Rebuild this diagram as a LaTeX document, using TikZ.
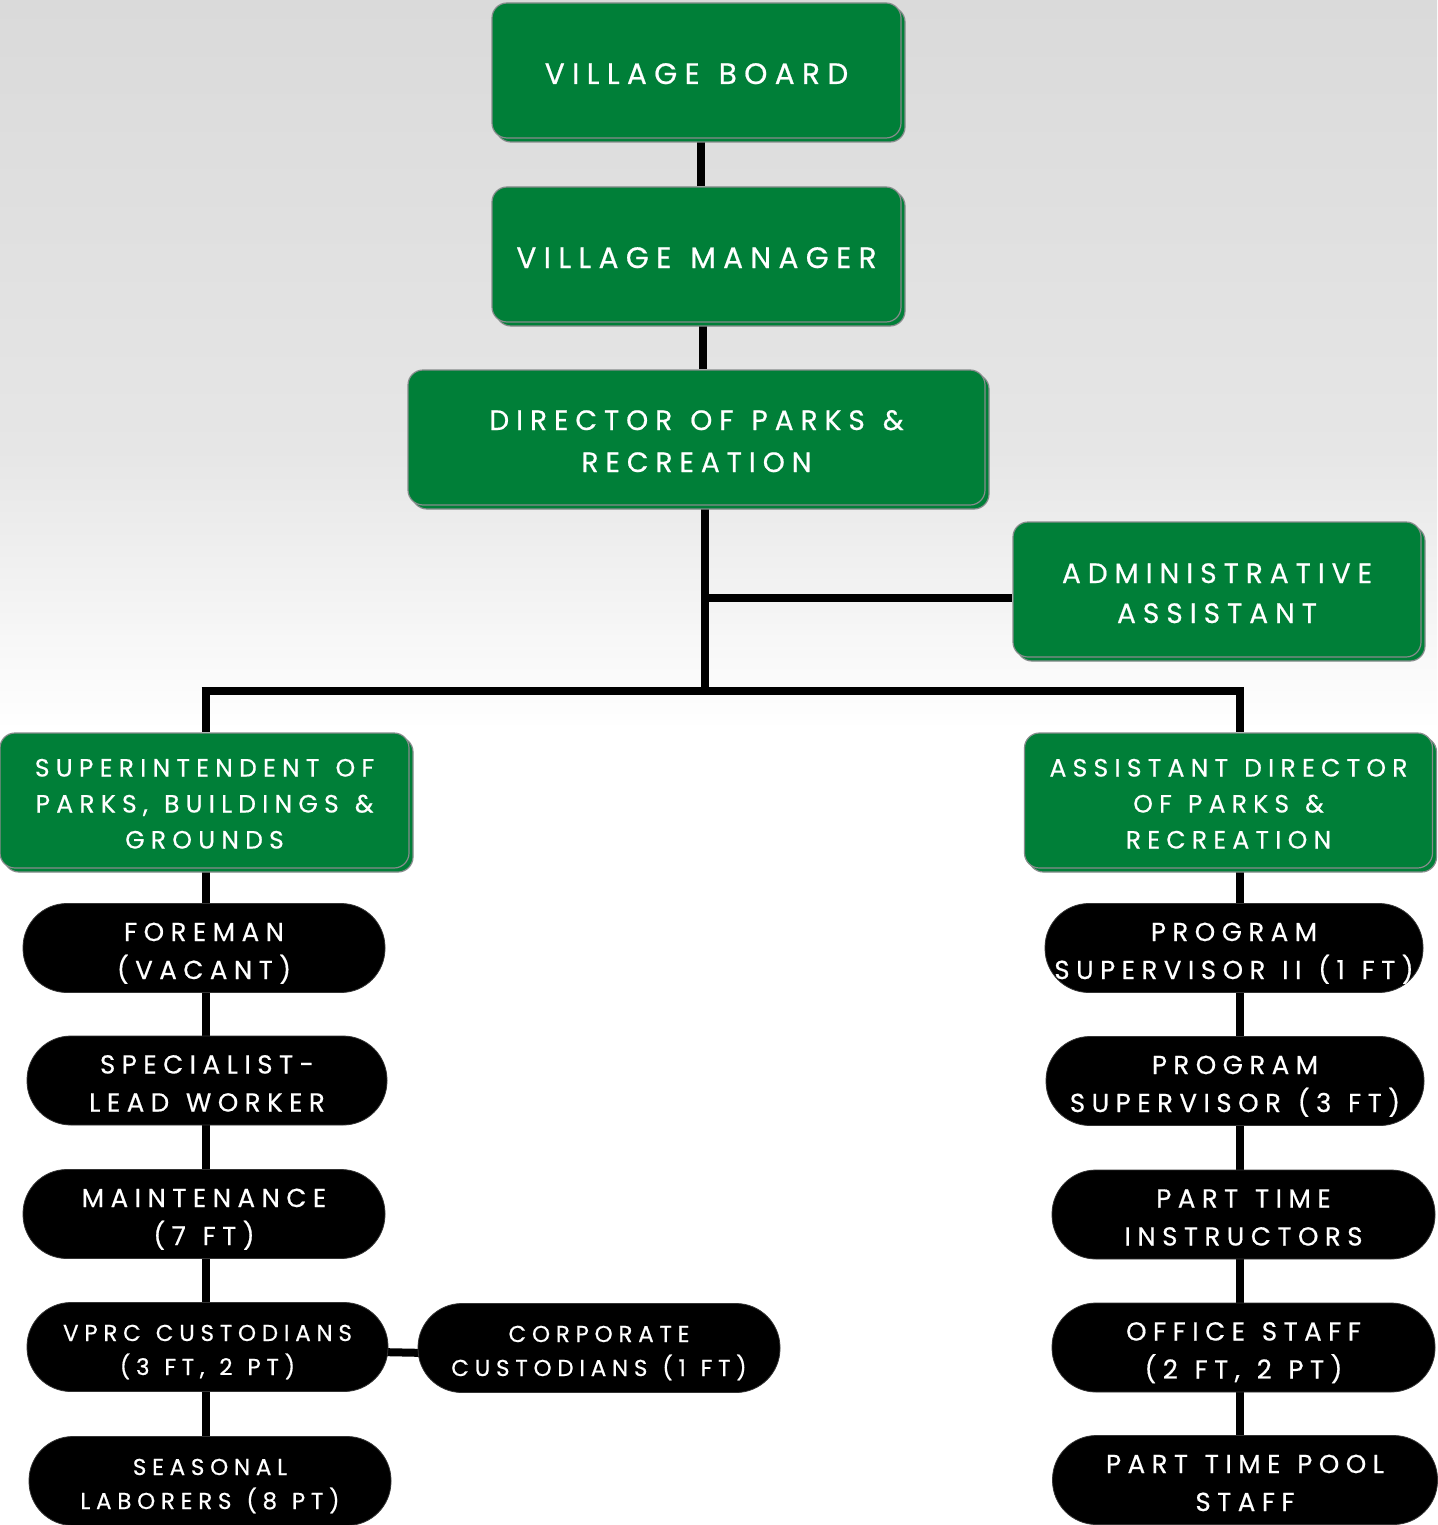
\documentclass[tikz,border=0pt]{standalone}
\usepackage{fontspec}
\newfontfamily\orgfont[LetterSpace=25, WordSpace=1.25, FakeBold=0.6]{Poppins}
\usetikzlibrary{shadows,backgrounds,calc}
\definecolor{boardgreen}{RGB}{0,127,56}
\definecolor{edgegray}{RGB}{135,140,140}
\definecolor{topgray}{RGB}{218,218,218}
\definecolor{midgray}{RGB}{230,230,230}

% fixed top/bottom struts keep every label at the same height in its box
\newcommand\orglbl[3]{\rule{0pt}{#1}#3\rule[-#2]{0pt}{0pt}}
\newcommand\biglbl[1]{\orglbl{35pt}{8pt}{#1}}
\newcommand\midlbl[1]{\orglbl{32pt}{8pt}{#1}}
\newcommand\pilllbl[1]{\orglbl{32pt}{8pt}{#1}}
\newcommand\tightlbl[1]{\orglbl{30pt}{8pt}{#1}}

\begin{document}
\begin{tikzpicture}[x=1pt,y=-1pt,
  greenbox/.style={rectangle, rounded corners=15pt, fill=boardgreen,
    draw=edgegray, line width=1.2pt, text=white, align=center, inner sep=0pt,
    copy shadow={shadow xshift=4pt, shadow yshift=-4pt}},
  pill/.style={rectangle, rounded corners=44pt, fill=black, draw=black!80, line width=0.8pt,
    text=white, align=center, inner sep=0pt, minimum height=89pt},
  toptext/.style={font=\orgfont\fontsize{29.5}{42}\selectfont},
  bigtext/.style={font=\orgfont\fontsize{28}{42}\selectfont},
  midtext/.style={font=\orgfont\fontsize{25}{36}\selectfont},
  pilltext/.style={font=\orgfont\fontsize{26}{38}\selectfont},
  tighttext/.style={font=\orgfont\fontsize{23}{34}\selectfont},
  conn/.style={line width=8pt, black}]

\useasboundingbox (0,0) rectangle (1437,1525);

% page background: grey fading to white
\begin{pgfonlayer}{background}
  \fill[white] (0,0) rectangle (1437,1525);
  \shade[top color=topgray, bottom color=midgray] (0,0) rectangle (1437,450);
  \shade[top color=midgray, bottom color=white] (0,450) rectangle (1437,730);
\end{pgfonlayer}

% leadership boxes
\node[greenbox, toptext, minimum width=409pt, minimum height=135pt] (vb) at (696.5,70.5) {\biglbl{VILLAGE BOARD}};
\node[greenbox, toptext, minimum width=409pt, minimum height=135pt] (vm) at (696.5,254.5) {\biglbl{VILLAGE MANAGER}};
\node[greenbox, bigtext, minimum width=577pt, minimum height=135pt] (dir) at (696.5,437.5) {\biglbl{DIRECTOR OF PARKS \&\\RECREATION}};
\node[greenbox, bigtext, minimum width=408pt, minimum height=135pt,
      font=\orgfont\fontsize{28}{40}\selectfont] (adm) at (1217,589.5) {\biglbl{ADMINISTRATIVE\\ASSISTANT}};
\node[greenbox, midtext, minimum width=409pt, minimum height=135pt] (sup) at (204.5,800.5) {\midlbl{SUPERINTENDENT OF\\PARKS, BUILDINGS \&\\GROUNDS}};
\node[greenbox, midtext, minimum width=408pt, minimum height=135pt] (asd) at (1228.5,800.5) {\midlbl{ASSISTANT DIRECTOR\\OF PARKS \&\\RECREATION}};

% parks, buildings and grounds staff
\node[pill, pilltext, minimum width=362pt] (fore) at (204,948) {\pilllbl{FOREMAN\\(VACANT)}};
\node[pill, pilltext, minimum width=360pt] (spec) at (207,1080.5) {\pilllbl{SPECIALIST-\\LEAD WORKER}};
\node[pill, pilltext, minimum width=362pt] (maint) at (204,1214) {\pilllbl{MAINTENANCE\\(7 FT)}};
\node[pill, tighttext, minimum width=361pt] (vprc) at (207.5,1347) {\tightlbl{VPRC CUSTODIANS\\(3 FT, 2 PT)}};
\node[pill, tighttext, minimum width=362pt] (seas) at (210,1481) {\tightlbl{SEASONAL\\LABORERS (8 PT)}};
\node[pill, tighttext, minimum width=362pt] (corp) at (599,1348) {\tightlbl{CORPORATE\\CUSTODIANS (1 FT)}};

% recreation staff
\node[pill, pilltext, minimum width=378pt] (ps2) at (1234,948) {\pilllbl{PROGRAM\\SUPERVISOR II (1 FT)}};
\node[pill, pilltext, minimum width=378pt] (ps) at (1235,1081) {\pilllbl{PROGRAM\\SUPERVISOR (3 FT)}};
\node[pill, pilltext, minimum width=383pt] (pti) at (1243.5,1214.5) {\pilllbl{PART TIME\\INSTRUCTORS}};
\node[pill, pilltext, minimum width=383pt] (off) at (1243.5,1347.5) {\pilllbl{OFFICE STAFF\\(2 FT, 2 PT)}};
\node[pill, pilltext, minimum width=385pt] (pool) at (1245,1480) {\pilllbl{PART TIME POOL\\STAFF}};

% reporting lines
\coordinate (lcol) at (205.5,0);
\coordinate (rcol) at (1240,0);
\coordinate (trunk) at (705,0);
\coordinate (bus) at (0,691);
\coordinate (admrow) at (0,598);
\begin{pgfonlayer}{background}
  \draw[conn] ($(vb.south)+(4.5,0)$) -- ($(vm.north)+(4.5,0)$);
  \draw[conn] ($(vm.south)+(6.5,0)$) -- ($(dir.north)+(6.5,0)$);
  \draw[conn] (trunk |- dir.south) -- (trunk |- bus);
  \draw[conn] (trunk |- admrow) -- (adm.west |- admrow);
  \draw[conn] ([xshift=-4pt]lcol |- bus) -- ([xshift=4pt]rcol |- bus);
  \draw[conn] (lcol |- bus) -- (lcol |- sup.north);
  \draw[conn] (rcol |- bus) -- (rcol |- asd.north);
  \draw[conn] (lcol |- sup.south) -- (lcol |- fore.north);
  \draw[conn] (lcol |- fore.south) -- (lcol |- spec.north);
  \draw[conn] (lcol |- spec.south) -- (lcol |- maint.north);
  \draw[conn] (lcol |- maint.south) -- (lcol |- vprc.north);
  \draw[conn] (lcol |- vprc.south) -- (lcol |- seas.north);
  \draw[conn] ($(vprc.east)+(-10,5)$) -- ($(corp.west)+(10,5)$);
  \draw[conn] (rcol |- asd.south) -- (rcol |- ps2.north);
  \draw[conn] (rcol |- ps2.south) -- (rcol |- ps.north);
  \draw[conn] (rcol |- ps.south) -- (rcol |- pti.north);
  \draw[conn] (rcol |- pti.south) -- (rcol |- off.north);
  \draw[conn] (rcol |- off.south) -- (rcol |- pool.north);
\end{pgfonlayer}
\end{tikzpicture}
\end{document}
